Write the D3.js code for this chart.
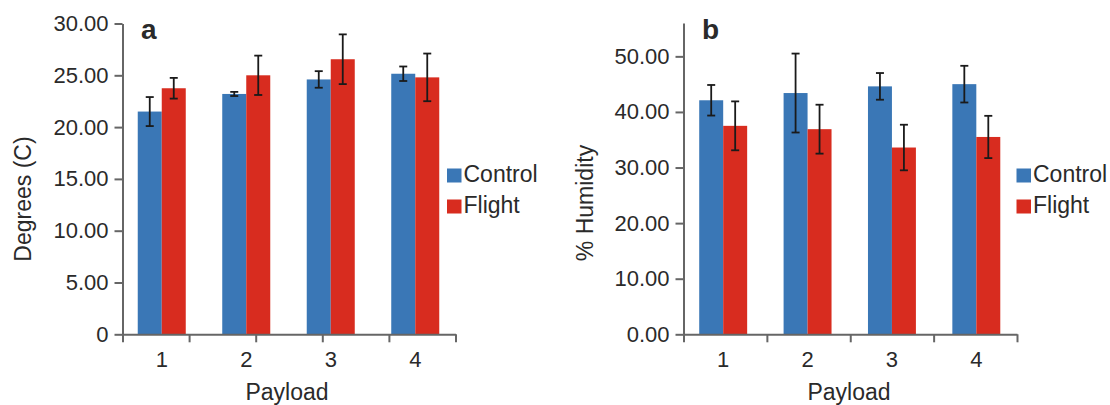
<!DOCTYPE html>
<html>
<head>
<meta charset="utf-8">
<script src="https://cdn.jsdelivr.net/npm/d3@7"></script>
<style>
  html, body { margin: 0; padding: 0; background: #fff; }
  svg { display: block; }
  text { font-family: "Liberation Sans", Arial, Helvetica, sans-serif; fill: #2a2a2a; }
</style>
</head>
<body>
<svg id="chart" width="1110" height="405"></svg>
<script>
// ---- data ----
const categories = ["1", "2", "3", "4"];
const series = ["Control", "Flight"];
const colors = ["#3a77b6", "#d82c1f"];

const tempControl    = [21.5, 23.2, 24.6, 25.15];
const tempControlErr = [1.4, 0.2, 0.8, 0.7];
const tempFlight     = [23.75, 25.0, 26.55, 24.8];
const tempFlightErr  = [1.0, 1.9, 2.4, 2.3];

const humControl    = [42.1, 43.4, 44.6, 45.0];
const humControlErr = [2.75, 7.1, 2.4, 3.3];
const humFlight     = [37.5, 36.9, 33.6, 35.5];
const humFlightErr  = [4.4, 4.4, 4.1, 3.8];

const tempTicks = [0, 5, 10, 15, 20, 25, 30];
const humTicks  = [0, 10, 20, 30, 40, 50];

const svg = d3.select("#chart");
const axisColor = "#666";

function drawPanel(cfg) {
  const g = svg.append("g");
  const y = d3.scaleLinear().domain(cfg.yDomain).range([334.3, cfg.yTop]);
  const x0 = d3.scaleBand().domain(categories).range(cfg.bandRange).padding(0);
  const x1 = d3.scaleBand().domain(series).range([0, x0.bandwidth()])
    .paddingInner(0).paddingOuter(0.76);

  // bars
  const vals = [cfg.control, cfg.flight];
  const errs = [cfg.controlErr, cfg.flightErr];
  series.forEach((s, si) => {
    g.selectAll(null).data(categories).enter().append("rect")
      .attr("x", (c) => x0(c) + x1(s))
      .attr("y", (c, i) => y(vals[si][i]))
      .attr("width", x1.bandwidth())
      .attr("height", (c, i) => y(0) - y(vals[si][i]))
      .attr("fill", colors[si]);
  });
  // error bars
  series.forEach((s, si) => {
    const eg = g.selectAll(null).data(categories).enter().append("g")
      .attr("stroke", "#1a1a1a").attr("stroke-width", 1.8);
    const cx = (c) => x0(c) + x1(s) + x1.bandwidth() / 2;
    eg.append("line")
      .attr("x1", cx).attr("x2", cx)
      .attr("y1", (c, i) => y(vals[si][i] + errs[si][i]))
      .attr("y2", (c, i) => y(vals[si][i] - errs[si][i]));
    [1, -1].forEach(sign => {
      eg.append("line")
        .attr("x1", (c) => cx(c) - 4).attr("x2", (c) => cx(c) + 4)
        .attr("y1", (c, i) => y(vals[si][i] + sign * errs[si][i]))
        .attr("y2", (c, i) => y(vals[si][i] + sign * errs[si][i]));
    });
  });

  // y axis
  const yAxis = d3.axisLeft(y).tickValues(cfg.yTicks).tickSize(8).tickPadding(6)
    .tickFormat(cfg.yFormat).tickSizeOuter(0);
  const ya = g.append("g").attr("transform", `translate(${cfg.yAxisX},0)`).call(yAxis);
  ya.select(".domain").attr("stroke", axisColor).attr("stroke-width", 2);
  ya.selectAll(".tick line").attr("stroke", axisColor).attr("stroke-width", 2);
  ya.selectAll(".tick text").attr("font-size", 22)
    .attr("font-family", '"Liberation Sans", Arial, sans-serif').attr("fill", "#2a2a2a");

  // x axis (tick marks on a separate linear scale, labels at group centres)
  const xt = d3.scaleLinear().domain([0, cfg.xTickCount]).range(cfg.xTickRange);
  const xAxis = d3.axisBottom(xt).ticks(cfg.xTickCount).tickSize(8).tickSizeOuter(0).tickFormat("");
  const xa = g.append("g").attr("transform", `translate(0,${y(0)})`).call(xAxis);
  xa.select(".domain").attr("stroke", axisColor).attr("stroke-width", 2);
  xa.selectAll(".tick line").attr("stroke", axisColor).attr("stroke-width", 2);

  g.selectAll(null).data(categories).enter().append("text")
    .attr("x", (c) => x0(c) + x0.bandwidth() / 2)
    .attr("y", 366.5)
    .attr("text-anchor", "middle").attr("font-size", 22)
    .text((c) => c);

  // axis titles
  g.append("text").attr("x", cfg.xTitleX).attr("y", 400)
    .attr("text-anchor", "middle").attr("font-size", 23).text("Payload");
  g.append("text")
    .attr("transform", `translate(${cfg.yTitleX},${cfg.yTitleY}) rotate(-90)`)
    .attr("text-anchor", "middle").attr("font-size", 23).text(cfg.yTitle);

  // panel letter
  g.append("text").attr("x", cfg.letterX).attr("y", 39)
    .attr("font-size", 28).attr("font-weight", "bold").attr("fill", "#111").text(cfg.letter);

  // legend
  series.forEach((s, si) => {
    const ly = 168.5 + si * 31;
    g.append("rect").attr("x", cfg.legendX).attr("y", ly).attr("width", 14.5).attr("height", 14)
      .attr("fill", colors[si]);
    g.append("text").attr("x", cfg.legendX + 16.5).attr("y", ly + 13)
      .attr("font-size", 23).text(s);
  });
}

drawPanel({
  letter: "a", letterX: 141,
  yDomain: [0, 30], yTop: 23.5, yTicks: tempTicks,
  yFormat: (d) => d === 0 ? "0" : d.toFixed(2),
  yAxisX: 122.5,
  bandRange: [119.5, 457.5],
  xTickCount: 5, xTickRange: [122.5, 455.5],
  control: tempControl, controlErr: tempControlErr,
  flight: tempFlight, flightErr: tempFlightErr,
  xTitleX: 287, yTitle: "Degrees (C)", yTitleX: 31, yTitleY: 199,
  legendX: 447
});

drawPanel({
  letter: "b", letterX: 702,
  yDomain: [0, 56], yTop: 23, yTicks: humTicks,
  yFormat: (d) => d.toFixed(2),
  yAxisX: 683.5,
  bandRange: [681, 1018.5],
  xTickCount: 4, xTickRange: [683.5, 1017],
  control: humControl, controlErr: humControlErr,
  flight: humFlight, flightErr: humFlightErr,
  xTitleX: 849, yTitle: "% Humidity", yTitleX: 593, yTitleY: 203,
  legendX: 1016.5
});
</script>
</body>
</html>
